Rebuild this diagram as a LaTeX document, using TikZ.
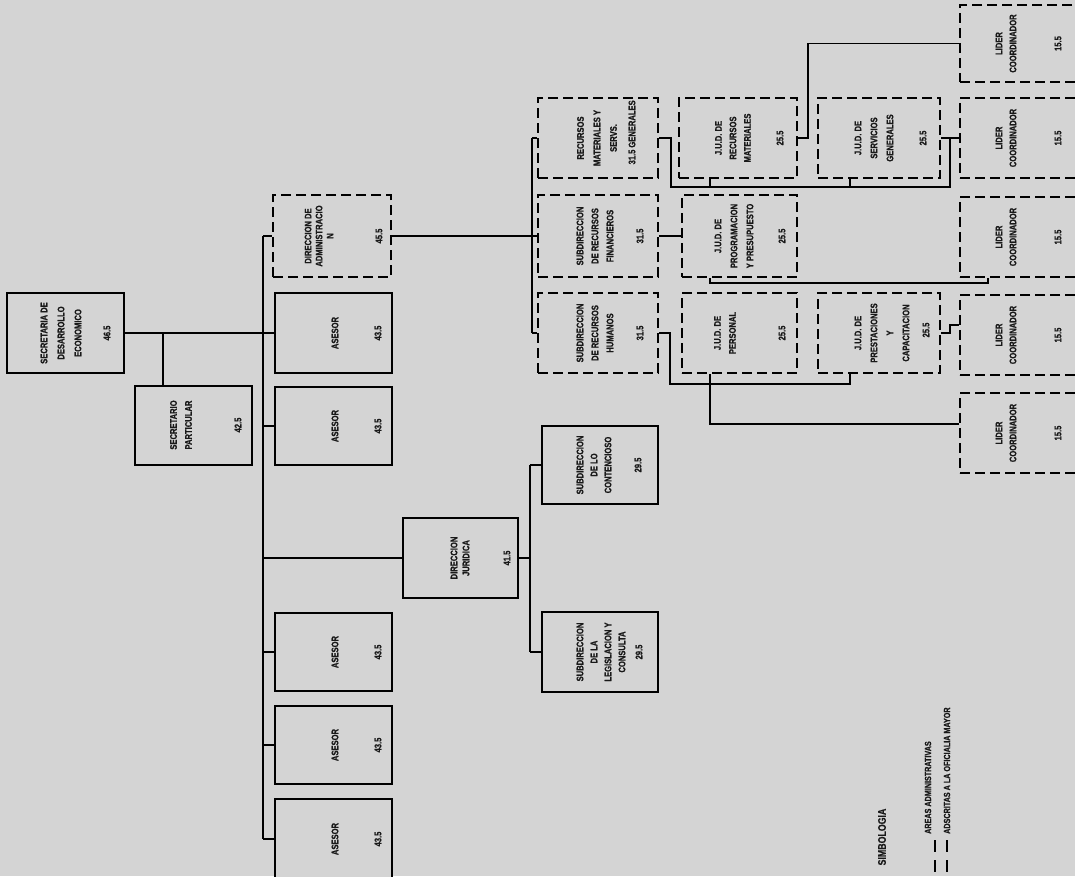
\documentclass[tikz,border=0pt]{standalone}
\usepackage{fontspec}
\newfontfamily\lblfont[FakeStretch=0.8,FakeBold=0.8]{Liberation Sans Bold}
\definecolor{bg}{RGB}{212,212,212}
\tikzset{
  solidbox/.style={draw=black, line width=1.6pt, fill=bg, inner sep=0},
  dashbox/.style={draw=black, line width=2.8pt, dash pattern=on 10pt off 5pt, fill=bg, inner sep=0},
  lbl/.style={rotate=90, font=\lblfont\fontsize{9.5}{14}\selectfont, align=center, inner sep=0, text=black!90},
  ls/.style={font=\lblfont\fontsize{9.5}{#1}\selectfont},
  conn/.style={draw=black, line width=1.5pt},
}
\newcommand\orgbox[6]{\node[#2, minimum width={#5pt-#3pt}, minimum height={#6pt-#4pt}] (#1) at ({(#3+#5)/2},{(#4+#6)/2}) {};}
\begin{document}
\begin{tikzpicture}[x=1pt,y=-1pt]
\fill[bg] (0,0) rectangle (1075,876);
\useasboundingbox (0,0) rectangle (1075,876);

% ---- boxes ----
\orgbox{secr}{solidbox}{7}{293}{124}{373}
\orgbox{secp}{solidbox}{135}{386}{252}{465}
\orgbox{dadm}{dashbox}{273}{195}{391}{277}
\orgbox{as1}{solidbox}{275}{293}{392}{373}
\orgbox{as2}{solidbox}{275}{387}{392}{465}
\orgbox{djur}{solidbox}{403}{518}{518}{598}
\orgbox{as3}{solidbox}{275}{613}{392}{691}
\orgbox{as4}{solidbox}{275}{706}{392}{784}
\orgbox{as5}{solidbox}{275}{799}{392}{879}
\orgbox{srm}{dashbox}{538}{98}{658}{178}
\orgbox{srf}{dashbox}{538}{195}{658}{277}
\orgbox{srh}{dashbox}{538}{293}{658}{373}
\orgbox{scon}{solidbox}{542}{426}{658}{504}
\orgbox{sleg}{solidbox}{542}{612}{658}{692}
\orgbox{jrm}{dashbox}{679}{98}{797}{178}
\orgbox{jsg}{dashbox}{818}{98}{940}{178}
\orgbox{jpp}{dashbox}{682}{195}{797}{277}
\orgbox{jper}{dashbox}{682}{293}{797}{373}
\orgbox{jpc}{dashbox}{818}{293}{940}{373}
\orgbox{l1}{dashbox}{960}{5}{1090}{82}
\orgbox{l2}{dashbox}{960}{98}{1090}{178}
\orgbox{l3}{dashbox}{960}{197}{1090}{277}
\orgbox{l4}{dashbox}{960}{295}{1090}{375}
\orgbox{l5}{dashbox}{960}{393}{1090}{473}

% ---- texts ----
\node[lbl, ls=17] (secr-t) at (61,333) {SECRETARIA DE\\DESARROLLO\\ECONOMICO};
\node[lbl] (secr-n) at (107,333) {46.5};
\node[lbl, ls=15] (secp-t) at (181,425) {SECRETARIO\\PARTICULAR};
\node[lbl] (secp-n) at (238,425) {42.5};
\node[lbl, ls=11] (dadm-t) at (319,236) {DIRECCION DE\\ADMINISTRACIO\\N};
\node[lbl] (dadm-n) at (379,236) {45.5};
\foreach \b in {as1,as2,as3,as4,as5}{
  \node[lbl] (\b-t) at (\b.center -| 335,0) {ASESOR};
  \node[lbl] (\b-n) at (\b.center -| 378,0) {43.5};
}
\node[lbl, ls=12] (djur-t) at (460,558) {DIRECCION\\JURIDICA};
\node[lbl] (djur-n) at (507,558) {41.5};
\node[lbl, ls=16.5] (srm-t) at (597,138) {RECURSOS\\MATERIALES Y\\SERVS.};
\node[lbl] (srm-t2) at (632,124) {GENERALES};
\node[lbl] (srm-n) at (632,157) {31.5};
\node[lbl, ls=15] (srf-t) at (595,236) {SUBDIRECCION\\DE RECURSOS\\FINANCIEROS};
\node[lbl] (srf-n) at (640,236) {31.5};
\node[lbl, ls=15] (srh-t) at (595,333) {SUBDIRECCION\\DE RECURSOS\\HUMANOS};
\node[lbl] (srh-n) at (640,333) {31.5};
\node[lbl, ls=14] (scon-t) at (594,465) {SUBDIRECCION\\DE LO\\CONTENCIOSO};
\node[lbl] (scon-n) at (638,465) {29.5};
\node[lbl, ls=14] (sleg-t) at (601,652) {SUBDIRECCION\\DE LA\\LEGISLACION Y\\CONSULTA};
\node[lbl] (sleg-n) at (639,652) {29.5};
\node[lbl, ls=14.5] (jrm-t) at (733,138) {J.U.D. DE\\RECURSOS\\MATERIALES};
\node[lbl] (jrm-n) at (780,138) {25.5};
\node[lbl, ls=16] (jsg-t) at (874,138) {J.U.D. DE\\SERVICIOS\\GENERALES};
\node[lbl] (jsg-n) at (923,138) {25.5};
\node[lbl, ls=16] (jpp-t) at (734,236) {J.U.D. DE\\PROGRAMACION\\Y PRESUPUESTO};
\node[lbl] (jpp-n) at (782,236) {25.5};
\node[lbl, ls=15] (jper-t) at (725,333) {J.U.D. DE\\PERSONAL};
\node[lbl] (jper-n) at (782,333) {25.5};
\node[lbl, ls=16] (jpc-t) at (882,333) {J.U.D. DE\\PRESTACIONES\\Y\\CAPACITACION};
\node[lbl] (jpc-n) at (926,330) {25.5};
\foreach \b in {l1,l2,l3,l4,l5}{
  \node[lbl] (\b-t) at (\b.center -| 1006,0) {LIDER\\COORDINADOR};
  \node[lbl] (\b-n) at (\b.center -| 1058,0) {15.5};
}

% ---- connectors ----
\coordinate (mx) at (263,0);
\coordinate (sp) at (163,333);
\draw[conn] (secr.east) -- (as1.west);
\draw[conn] (sp) -- (sp |- secp.north);
\draw[conn] (dadm.west -| mx) -- (as5.west -| mx);
\foreach \b in {dadm,as2,djur,as3,as4,as5}{
  \draw[conn] (\b.west -| mx) -- (\b.west);
}
\coordinate (ax) at (532,0);
\draw[conn] (dadm.east) -- (dadm.east -| ax);
\draw[conn] (srm.west -| ax) -- (srh.west -| ax);
\foreach \b in {srm,srf,srh}{
  \draw[conn] (\b.west -| ax) -- (\b.west);
}
\coordinate (jx) at (530,0);
\draw[conn] (djur.east) -- (djur.east -| jx);
\draw[conn] (scon.west -| jx) -- (sleg.west -| jx);
\foreach \b in {scon,sleg}{
  \draw[conn] (\b.west -| jx) -- (\b.west);
}
% recursos materiales bus
\coordinate (b1) at (671,187);
\coordinate (k1) at (950,187);
\coordinate (s1) at (710,187);
\coordinate (s2) at (850,187);
\draw[conn] (srm.east) -| (b1) -- (k1) |- (l2.west);
\draw[conn] (jsg.east) -- (jsg.east -| k1);
\draw[conn] (s1) -- (s1 |- jrm.south);
\draw[conn] (s2) -- (s2 |- jsg.south);
\coordinate (k2) at (808,0);
\draw[conn] (jrm.east) -| (k2 |- l1.west) -- (l1.west);
% financieros
\draw[conn] (srf.east) -- (jpp.west);
\coordinate (s3) at (710,283);
\coordinate (k3) at (988,283);
\draw[conn] (s3 |- jpp.south) -- (s3) -- (k3) -- (k3 |- l3.south);
% humanos
\coordinate (b2) at (670,384);
\coordinate (s4) at (850,384);
\coordinate (s5) at (710,424);
\draw[conn] (srh.east) -| (b2) -- (s4) -- (s4 |- jpc.south);
\draw[conn] (s5 |- jper.south) -- (s5) -- (s5 -| l5.west);
\coordinate (k4) at (950,325);
\draw[conn] (jpc.east) -| (k4) -- (k4 -| l4.west);

% ---- legend ----
\node[lbl, font=\lblfont\fontsize{11}{12}\selectfont] (simb) at (882,837) {SIMBOLOGIA};
\coordinate (g1a) at (935,840); \coordinate (g1b) at (935,874);
\coordinate (g2a) at (947,840); \coordinate (g2b) at (947,874);
\draw[line width=2.8pt, dash pattern=on 12pt off 8pt] (g1a) -- (g1b);
\draw[line width=2.8pt, dash pattern=on 12pt off 8pt] (g2a) -- (g2b);
\node[lbl, anchor=west, font=\lblfont\fontsize{9}{10}\selectfont] (leg1) at (928,834) {AREAS ADMINISTRATIVAS};
\node[lbl, anchor=west, font=\lblfont\fontsize{9}{10}\selectfont] (leg2) at (947,834) {ADSCRITAS A LA OFICIALIA MAYOR};
\end{tikzpicture}
\end{document}
